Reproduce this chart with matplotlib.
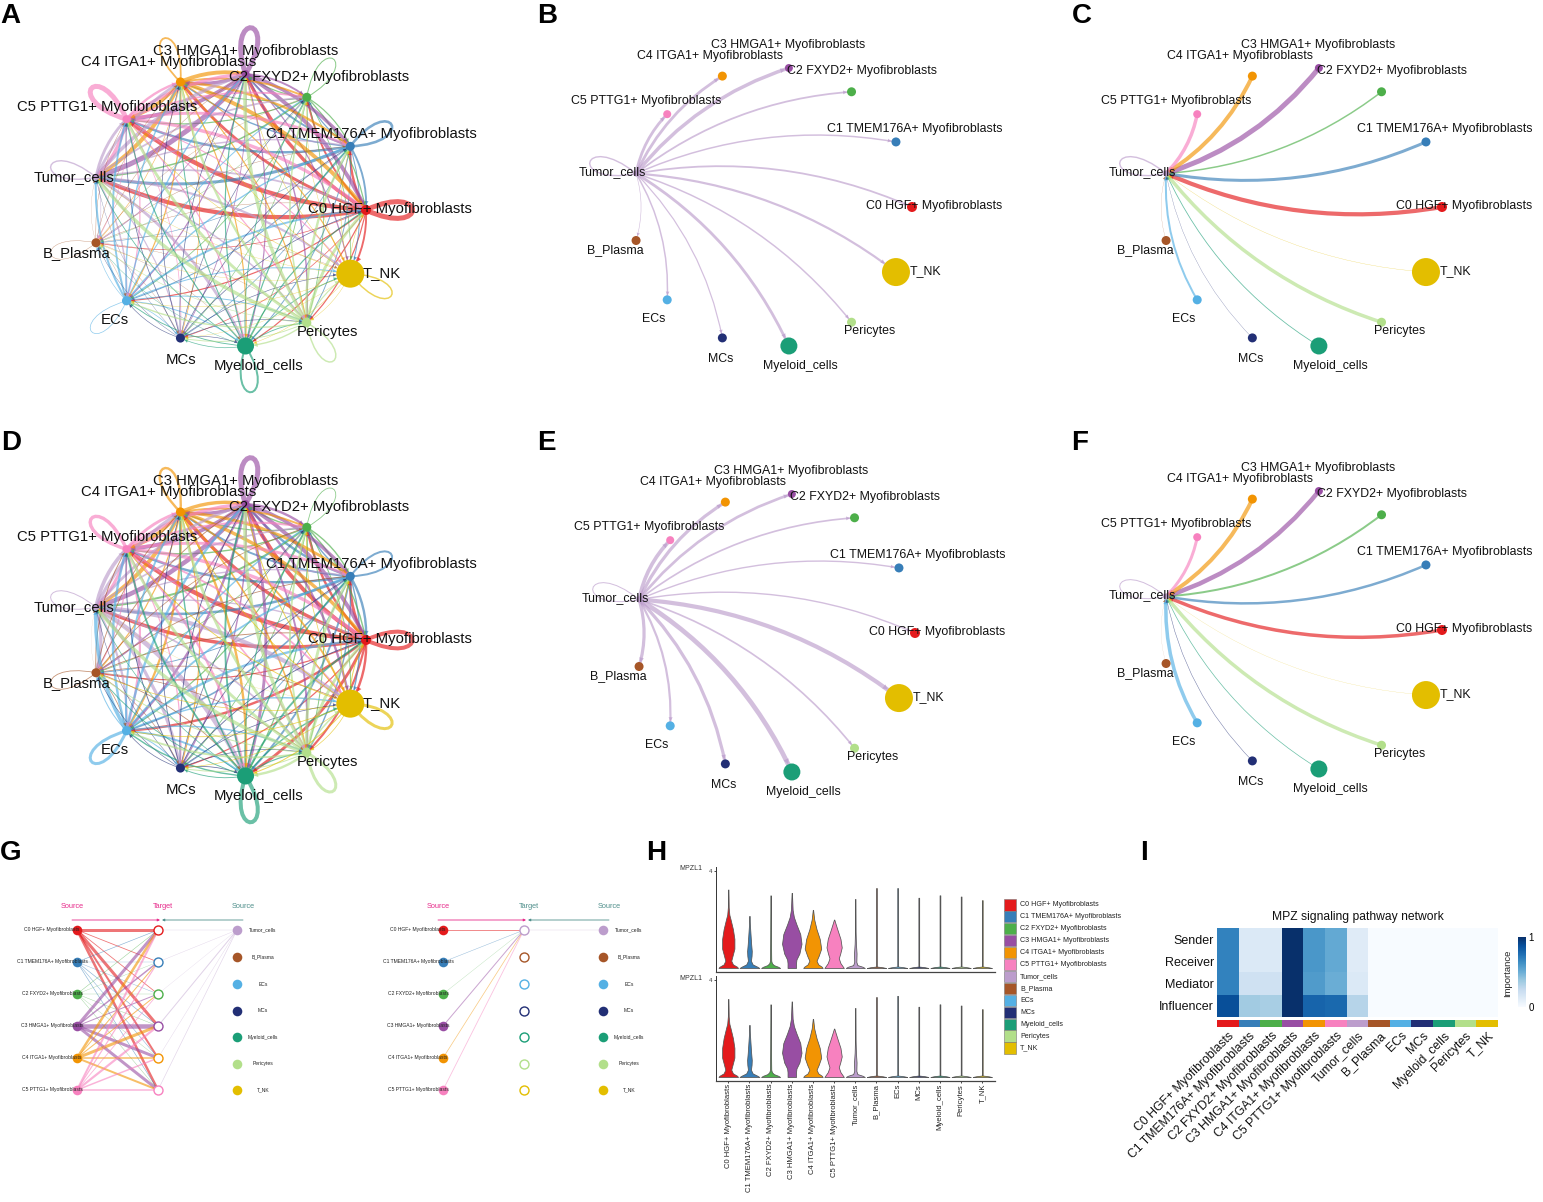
"""Cell-cell communication figure: circle networks, hierarchy plots, violins, heatmap."""

import numpy as np
import matplotlib

matplotlib.use("Agg")
import matplotlib.pyplot as plt
from matplotlib.colors import ListedColormap
from matplotlib.patches import Circle, FancyArrowPatch, PathPatch, Polygon, Rectangle
from matplotlib.path import Path

plt.rcParams["font.family"] = ["Liberation Sans", "DejaVu Sans"]

W, H = 1543, 1202

CELLS = [
    "C0 HGF+ Myofibroblasts",
    "C1 TMEM176A+ Myofibroblasts",
    "C2 FXYD2+ Myofibroblasts",
    "C3 HMGA1+ Myofibroblasts",
    "C4 ITGA1+ Myofibroblasts",
    "C5 PTTG1+ Myofibroblasts",
    "Tumor_cells",
    "B_Plasma",
    "ECs",
    "MCs",
    "Myeloid_cells",
    "Pericytes",
    "T_NK",
]
COLOURS = [
    "#E41A1C", "#377EB8", "#4DAF4A", "#984EA3", "#F29403", "#F781BF", "#BC9DCC",
    "#A65628", "#54B0E4", "#222F75", "#1B9E77", "#B2DF8A", "#E3BE00",
]
TUMOR = 6

# node sizes
NODE_SIZE = [5, 4.5, 4.5, 4, 4.5, 4, 3, 4.5, 4.5, 4.5, 8.5, 4.5, 14]

# edge widths, rows = source, cols = target, same order as CELLS
WEIGHT_A = [
    [5.0, 2.4, 1.9, 3.4, 2.9, 4.4, 4.2, 0.7, 1.2, 0.7, 1.2, 1.2, 1.9],
    [1.9, 2.6, 1.2, 1.9, 1.4, 2.4, 3.0, 0.6, 1.0, 0.7, 1.0, 0.9, 1.0],
    [1.2, 1.2, 1.0, 1.2, 1.0, 1.2, 1.5, 0.4, 0.8, 0.6, 0.8, 0.8, 0.8],
    [3.9, 3.4, 1.9, 5.0, 3.4, 3.9, 5.0, 0.7, 1.2, 0.8, 1.2, 1.4, 1.2],
    [3.9, 2.4, 1.9, 3.9, 1.8, 3.4, 4.0, 0.6, 1.2, 0.7, 1.2, 1.2, 1.2],
    [3.4, 2.9, 1.9, 3.4, 2.4, 5.0, 3.5, 0.6, 1.2, 0.7, 1.2, 1.2, 1.1],
    [1.8, 1.5, 1.8, 3.5, 2.8, 2.8, 1.4, 0.6, 1.5, 1.2, 2.8, 1.5, 2.2],
    [0.4, 0.4, 0.3, 0.4, 0.4, 0.4, 0.2, 0.4, 0.3, 0.3, 0.3, 0.3, 0.3],
    [1.9, 1.4, 1.0, 1.4, 1.4, 1.9, 2.0, 0.6, 0.7, 0.7, 1.0, 1.0, 1.0],
    [0.7, 0.7, 0.6, 0.7, 0.7, 0.7, 0.3, 0.4, 0.6, 0.0, 0.6, 0.6, 0.6],
    [1.2, 1.2, 0.9, 1.2, 1.0, 1.2, 0.8, 0.4, 0.9, 0.7, 2.0, 0.9, 0.9],
    [2.9, 2.4, 1.6, 3.4, 2.4, 2.9, 3.5, 0.6, 1.4, 0.9, 1.4, 1.5, 1.2],
    [0.5, 0.5, 0.4, 0.5, 0.5, 0.5, 0.3, 0.3, 0.4, 0.3, 0.4, 0.4, 1.5],
]
WEIGHT_D = [
    [4.0, 2.9, 2.4, 3.9, 3.4, 4.4, 3.5, 1.2, 2.4, 1.2, 2.9, 2.2, 2.4],
    [2.4, 2.0, 1.4, 2.4, 1.9, 2.4, 2.5, 0.9, 1.6, 0.9, 1.9, 1.4, 1.4],
    [1.4, 1.4, 0.8, 1.4, 1.2, 1.4, 2.0, 0.7, 1.2, 0.8, 1.2, 1.0, 1.0],
    [3.9, 3.4, 2.4, 5.0, 3.4, 3.9, 4.5, 1.4, 2.4, 1.4, 2.9, 1.9, 2.4],
    [3.4, 2.9, 1.9, 3.4, 2.4, 3.4, 4.0, 1.2, 2.2, 1.2, 2.4, 1.6, 1.9],
    [3.4, 2.9, 2.2, 3.4, 2.9, 3.4, 3.0, 1.2, 2.2, 1.2, 2.4, 1.6, 1.9],
    [1.4, 1.4, 1.7, 2.7, 3.2, 3.7, 1.0, 3.2, 2.2, 3.2, 4.7, 1.7, 4.2],
    [0.9, 0.8, 0.7, 0.9, 0.8, 0.9, 0.1, 0.8, 0.7, 0.6, 0.8, 0.7, 0.7],
    [2.4, 1.9, 1.4, 2.4, 1.9, 2.4, 3.5, 1.0, 3.0, 1.0, 1.9, 1.4, 1.4],
    [0.9, 0.8, 0.7, 0.9, 0.8, 0.9, 0.5, 0.6, 0.7, 0.0, 0.8, 0.7, 0.7],
    [1.9, 1.4, 1.2, 1.9, 1.4, 1.9, 0.7, 0.9, 1.4, 0.9, 4.0, 1.2, 1.4],
    [2.9, 2.9, 1.9, 3.4, 2.9, 2.9, 3.5, 1.0, 1.9, 1.0, 2.4, 3.0, 1.6],
    [1.0, 0.9, 0.7, 1.0, 0.9, 0.9, 0.2, 0.7, 0.8, 0.6, 1.0, 0.7, 3.0],
]

# hierarchy plots in G
HIER_LEFT = [
    [3.0, 0.8, 0.8, 3.0, 2.0, 2.5],
    [0.6, 0.3, 0.4, 0.6, 0.5, 0.6],
    [0.5, 0.3, 0.3, 0.4, 0.3, 0.4],
    [3.0, 1.5, 1.0, 4.5, 3.0, 3.0],
    [2.5, 1.0, 1.0, 3.0, 1.5, 2.0],
    [2.0, 1.2, 0.8, 2.2, 1.5, 1.5],
]
HIER_LEFT_TUMOR = [0.4, 0.4, 0.3, 1.0, 0.4, 0.6]
HIER_RIGHT = [1.0, 0.5, 0.3, 1.0, 0.7, 0.8]
HIER_RIGHT_TUMOR = 0.4

# violin outlines for H: heights and half-widths, last height replaced by the panel's top
VIOLIN_Y = [
    [0, 0.05, 0.15, 0.3, 0.5, 0.8, 1.2, 1.6, 2.0, 2.2, 2.5, 3.2],
    [0, 0.05, 0.15, 0.3, 0.5, 0.7, 1.0, 1.4, 1.8, 2.1],
    [0, 0.05, 0.12, 0.2, 0.3, 0.6, 1.2, 2.0, 3.0],
    [0, 0.2, 0.35, 0.6, 1.0, 1.4, 1.8, 2.1, 2.4, 3.1],
    [0, 0.05, 0.15, 0.3, 0.5, 0.8, 1.2, 1.6, 2.0, 2.4],
    [0, 0.05, 0.2, 0.4, 0.6, 0.85, 1.2, 1.6, 1.85, 2.0],
    [0, 0.05, 0.12, 0.25, 0.6, 1.0, 1.5, 2.85],
]
VIOLIN_W = [
    [0.46, 0.42, 0.22, 0.14, 0.2, 0.29, 0.29, 0.22, 0.11, 0.05, 0.02, 0.008],
    [0.47, 0.38, 0.15, 0.07, 0.1, 0.11, 0.08, 0.05, 0.02, 0.008],
    [0.45, 0.36, 0.15, 0.06, 0.03, 0.025, 0.02, 0.015, 0.008],
    [0.2, 0.2, 0.22, 0.36, 0.46, 0.4, 0.22, 0.1, 0.04, 0.008],
    [0.46, 0.42, 0.25, 0.17, 0.27, 0.39, 0.32, 0.17, 0.06, 0.008],
    [0.46, 0.42, 0.3, 0.22, 0.29, 0.36, 0.3, 0.15, 0.06, 0.008],
    [0.45, 0.35, 0.1, 0.05, 0.06, 0.03, 0.015, 0.008],
]
VIOLIN_TOP_1 = [3.24, 2.15, 3.0, 3.1, 2.4, 2.0, 2.85, 3.3, 3.3, 2.9, 3.0, 2.95, 2.8]
VIOLIN_TOP_2 = [3.22, 2.15, 3.0, 3.12, 2.4, 2.0, 2.85, 3.3, 3.35, 2.9, 3.0, 2.95, 2.8]

# heatmap in I
HEAT_ROWS = ["Sender", "Receiver", "Mediator", "Influencer"]
HEAT = [
    [0.68, 0.14, 0.14, 1.0, 0.6, 0.52, 0.12, 0.0, 0.0, 0.0, 0.0, 0.0, 0.0],
    [0.68, 0.14, 0.14, 1.0, 0.6, 0.52, 0.12, 0.0, 0.0, 0.0, 0.0, 0.0, 0.0],
    [0.68, 0.2, 0.2, 1.0, 0.58, 0.5, 0.14, 0.0, 0.0, 0.0, 0.0, 0.0, 0.0],
    [0.88, 0.36, 0.34, 1.0, 0.8, 0.78, 0.3, 0.0, 0.0, 0.0, 0.0, 0.0, 0.0],
]

# layout: label centres in pixels for the two circle sizes
LABELS_BIG = [
    (390, 209), (371, 134), (319, 77), (246, 51), (169, 62), (107, 107), (74, 177),
    (77, 253), (115, 320), (181, 360), (259, 366), (327, 332), (382, 273),
]
LABELS_SMALL = [
    (934, 206), (915, 129), (862, 71), (788, 45), (710, 56), (646, 101), (612, 172),
    (615, 250), (654, 319), (721, 359), (800, 366), (870, 331), (925, 271),
]

fig = plt.figure(figsize=(W / 100, H / 100), dpi=100, facecolor="white")


def px_axes(left, top, width, height):
    return fig.add_axes([left / W, 1 - (top + height) / H, width / W, height / H])


def lw_px(px):
    return px * 0.72


def node_xy(i):
    angle = np.deg2rad(i * 360 / 13)
    return np.array([np.cos(angle), np.sin(angle)])


def draw_edge(ax, src, tgt, width, colour, radius, curve=0.15):
    a, b = node_xy(src), node_xy(tgt)
    chord = b - a
    normal = np.array([-chord[1], chord[0]])
    ctrl = (a + b) / 2 + curve * normal
    path = Path([a, ctrl, b], [Path.MOVETO, Path.CURVE3, Path.CURVE3])
    ax.add_patch(PathPatch(path, fill=False, edgecolor=colour, lw=lw_px(width),
                           alpha=0.65, zorder=2, capstyle="butt"))
    # small arrowhead sitting just outside the target node
    u = (b - ctrl) / np.linalg.norm(b - ctrl)
    side = np.array([-u[1], u[0]])
    tip = b - u * NODE_SIZE[tgt] / radius
    size = (3 + 0.5 * width) / radius
    head = [tip, tip - u * size + side * size * 0.5, tip - u * size - side * size * 0.5]
    ax.add_patch(Polygon(head, closed=True, facecolor=colour, edgecolor="none", alpha=0.7, zorder=2.5))


def draw_loop(ax, i, width, colour, length=0.5):
    if width == 0:
        return
    p = node_xy(i)
    angle = np.deg2rad(i * 360 / 13)
    delta = np.deg2rad(25)
    c1 = p + length * np.array([np.cos(angle + delta), np.sin(angle + delta)])
    c2 = p + length * np.array([np.cos(angle - delta), np.sin(angle - delta)])
    path = Path([p, c1, c2, p], [Path.MOVETO, Path.CURVE4, Path.CURVE4, Path.CURVE4])
    ax.add_patch(PathPatch(path, fill=False, edgecolor=colour, lw=lw_px(width),
                           alpha=0.65, zorder=2))


def network_axes(cx, cy, radius):
    box_x, box_y = 1.9, 1.7
    ax = px_axes(cx - box_x * radius, cy - box_y * radius, 2 * box_x * radius, 2 * box_y * radius)
    ax.set_xlim(-box_x, box_x)
    ax.set_ylim(-box_y, box_y)
    ax.axis("off")
    return ax


def draw_nodes_and_labels(ax, radius, labels, shift, centre, fontsize):
    cx, cy = centre
    for i, cell in enumerate(CELLS):
        x, y = node_xy(i)
        ax.add_patch(Circle((x, y), NODE_SIZE[i] / radius, facecolor=COLOURS[i],
                            edgecolor="none", zorder=3))
        lx = (labels[i][0] + shift[0] - cx) / radius
        ly = (cy - labels[i][1] - shift[1]) / radius
        ax.text(lx, ly, cell, ha="center", va="center", fontsize=fontsize, color="#111",
                zorder=4)


def circle_panel(cx, cy, weights):
    radius = 137
    ax = network_axes(cx, cy, radius)
    for i in range(13):
        for j in range(13):
            if i == j:
                draw_loop(ax, i, weights[i][j], COLOURS[i])
            else:
                draw_edge(ax, i, j, weights[i][j], COLOURS[i], radius)
    draw_nodes_and_labels(ax, radius, LABELS_BIG, (0, cy - 210), (cx, cy), 10.75)


def star_panel(cx, cy, weights, outgoing):
    radius = 140
    ax = network_axes(cx, cy, radius)
    for i in range(13):
        if i == TUMOR:
            draw_loop(ax, i, weights[i][i], COLOURS[i], length=0.5)
        elif outgoing:
            draw_edge(ax, TUMOR, i, weights[TUMOR][i], COLOURS[TUMOR], radius)
        else:
            draw_edge(ax, i, TUMOR, weights[i][TUMOR], COLOURS[i], radius)
    draw_nodes_and_labels(ax, radius, LABELS_SMALL, (cx - 772, cy - 207), (cx, cy), 8.9)


def hierarchy_panel(left, right_panel):
    ax = px_axes(left, 895, 300, 210)
    ax.set_xlim(0, 300)
    ax.set_ylim(210, 0)
    ax.axis("off")
    x_src, x_tgt, x_right = 77, 158, 237
    left_rows = np.array([35, 67, 99, 131, 163, 195])
    seven_rows = np.array([35, 62, 89, 116, 142, 169, 195])

    if right_panel:
        target_rows = seven_rows
        target_cols = [TUMOR, 7, 8, 9, 10, 11, 12]
        for i, w in enumerate(HIER_RIGHT):
            ax.plot([x_src, x_tgt], [left_rows[i], target_rows[0]], color=COLOURS[i],
                    lw=lw_px(w), alpha=0.5, zorder=1)
        ax.plot([x_right, x_tgt], [seven_rows[0], target_rows[0]], color=COLOURS[TUMOR],
                lw=lw_px(HIER_RIGHT_TUMOR), alpha=0.5, zorder=1)
    else:
        target_rows = left_rows
        target_cols = list(range(6))
        for i, row in enumerate(HIER_LEFT):
            for j, w in enumerate(row):
                ax.plot([x_src, x_tgt], [left_rows[i], target_rows[j]], color=COLOURS[i],
                        lw=lw_px(w), alpha=0.6, zorder=1)
        for j, w in enumerate(HIER_LEFT_TUMOR):
            ax.plot([x_right, x_tgt], [seven_rows[0], target_rows[j]], color=COLOURS[TUMOR],
                    lw=lw_px(w), alpha=0.45, zorder=1)

    for i in range(6):
        ax.scatter(x_src, left_rows[i], s=48, color=COLOURS[i], linewidths=0, zorder=2)
        ax.text(x_src - 25, left_rows[i], CELLS[i], ha="center", va="center", fontsize=3.6,
                color="#222", zorder=3)
    for i, col in enumerate(target_cols):
        ax.scatter(x_tgt, target_rows[i], s=42, facecolor="white", edgecolor=COLOURS[col],
                   linewidths=1.0, zorder=2)
    for i, col in enumerate([TUMOR, 7, 8, 9, 10, 11, 12]):
        ax.scatter(x_right, seven_rows[i], s=48, color=COLOURS[col], linewidths=0, zorder=2)
        ax.text(x_right + 26, seven_rows[i], CELLS[col], ha="center", va="center",
                fontsize=3.6, color="#222", zorder=3)

    pink, teal = "#E7298A", "#4F8F8B"
    ax.text(x_src - 5, 12, "Source", ha="center", va="center", fontsize=5.3, color=pink)
    ax.text(x_tgt + 5, 12, "Target", ha="center", va="center", fontsize=5.3,
            color=teal if right_panel else pink)
    ax.text(x_right + 6, 12, "Source", ha="center", va="center", fontsize=5.3, color=teal)
    for start, end, colour in [(x_src - 5, x_tgt + 2, pink), (x_right + 6, x_tgt + 4, teal)]:
        ax.add_patch(FancyArrowPatch((start, 25), (end, 25), arrowstyle="-|>", mutation_scale=3.5,
                                     color=colour, lw=0.6, shrinkA=0, shrinkB=0))


def violin_row(ax, tops):
    for i in range(13):
        if i < 7:
            ys = np.array(VIOLIN_Y[i], dtype=float)
            ws = np.array(VIOLIN_W[i], dtype=float)
            ys[-1] = tops[i]
        else:
            ys = np.array([0, 0.03, 0.06, tops[i]])
            ws = np.array([0.45, 0.3, 0.018, 0.018])
        ax.fill_betweenx(ys, i - ws, i + ws, facecolor=COLOURS[i], edgecolor="#555", lw=0.55)
    ax.set_xlim(-0.58, 12.6)
    ax.set_ylim(-0.165, 4.17)
    ax.set_yticks([4])
    ax.tick_params(axis="y", labelsize=4.5, length=1.5, width=0.5, pad=1, labelcolor="#444")
    for side in ["top", "right"]:
        ax.spines[side].set_visible(False)
    ax.spines["left"].set_linewidth(0.7)
    ax.spines["bottom"].set_linewidth(0.9)
    ax.spines["left"].set_color("#333")
    ax.spines["bottom"].set_color("#444")
    ax.patch.set_alpha(0)


circle_panel(229, 210, WEIGHT_A)
star_panel(772, 207, WEIGHT_A, True)
star_panel(1302, 207, WEIGHT_A, False)
circle_panel(229, 640, WEIGHT_D)
star_panel(775, 633, WEIGHT_D, True)
star_panel(1302, 630, WEIGHT_D, False)

hierarchy_panel(0, False)
hierarchy_panel(366, True)

# H: stacked violins
ax_v1 = px_axes(716, 867, 279, 105)
violin_row(ax_v1, VIOLIN_TOP_1)
ax_v1.set_xticks([])
ax_v2 = px_axes(716, 976, 279, 105)
violin_row(ax_v2, VIOLIN_TOP_2)
ax_v2.set_xticks(range(13))
ax_v2.set_xticklabels(CELLS, rotation=90, fontsize=5.5, color="#222")
ax_v2.tick_params(axis="x", length=1.5, width=0.5, pad=0.5)
for y_px in (869, 978):
    fig.text(679 / W, 1 - y_px / H, "MPZL1", fontsize=5, color="#333", ha="left", va="center")

ax_leg = px_axes(1000, 895, 130, 165)
ax_leg.set_xlim(1000, 1130)
ax_leg.set_ylim(1060, 895)
ax_leg.axis("off")
for i, cell in enumerate(CELLS):
    y = 899 + i * 11.95
    ax_leg.add_patch(Rectangle((1004, y), 12, 11.5, facecolor=COLOURS[i], edgecolor="#777", lw=0.4))
    ax_leg.text(1020, y + 5.7, cell, fontsize=5.1, va="center", ha="left", color="#222")

# I: heatmap with annotation strip and colourbar
ax_h = px_axes(1217, 928, 281, 89)
mesh = ax_h.imshow(HEAT, cmap="Blues", vmin=0, vmax=1, aspect="auto")
ax_h.set_xticks([])
ax_h.set_yticks(range(4))
ax_h.set_yticklabels(HEAT_ROWS, fontsize=9, color="#111")
ax_h.tick_params(axis="y", length=0, pad=2)
for spine in ax_h.spines.values():
    spine.set_visible(False)
ax_h.set_title("MPZ signaling pathway network", fontsize=8.7, color="#111", pad=6)

ax_s = px_axes(1217, 1020, 281, 7)
ax_s.imshow([list(range(13))], cmap=ListedColormap(COLOURS), aspect="auto")
ax_s.set_yticks([])
ax_s.set_xticks(range(13))
ax_s.set_xticklabels(CELLS, rotation=45, ha="right", va="top", rotation_mode="anchor",
                     fontsize=8.8, color="#111")
ax_s.tick_params(axis="x", length=0, pad=2)
for spine in ax_s.spines.values():
    spine.set_visible(False)

ax_c = px_axes(1518, 937, 8, 70)
cbar = fig.colorbar(mesh, cax=ax_c)
cbar.set_ticks([0, 1])
cbar.ax.tick_params(labelsize=7, length=0, pad=2)
cbar.outline.set_visible(False)
fig.text(1508 / W, 1 - 973 / H, "Importance", rotation=90, fontsize=6.8, ha="center",
         va="center", color="#222")

for letter, x, y in [("A", 10, 16), ("B", 547, 16), ("C", 1082, 16), ("D", 11, 443),
                     ("E", 546, 443), ("F", 1080, 443), ("G", 11, 853), ("H", 656, 853),
                     ("I", 1144, 853)]:
    fig.text(x / W, 1 - y / H, letter, fontsize=20, fontweight="bold", ha="center",
             va="center", color="black")

fig.savefig("out.png", dpi=100)
